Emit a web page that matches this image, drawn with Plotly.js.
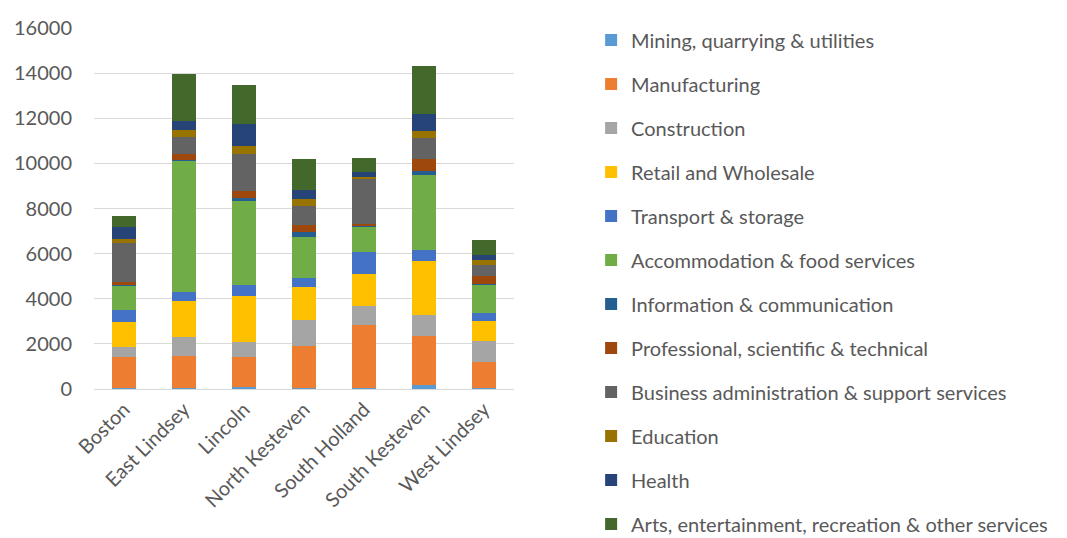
<!DOCTYPE html>
<html>
<head>
<meta charset="utf-8">
<script src="https://cdn.plot.ly/plotly-3.0.1.min.js"></script>
<style>html,body{margin:0;padding:0;background:#fff;}#chart{width:1067px;height:538px;}</style>
</head>
<body>
<div id="chart"></div>
<script>
const districts = ["Boston", "East Lindsey", "Lincoln", "North Kesteven", "South Holland", "South Kesteven", "West Lindsey"];

const mining         = [50, 30, 100, 50, 30, 180, 30];
const manufacturing  = [1350, 1440, 1340, 1860, 2810, 2150, 1180];
const construction   = [440, 830, 660, 1160, 820, 960, 920];
const retail         = [1150, 1580, 2000, 1430, 1440, 2370, 890];
const transport      = [490, 400, 520, 420, 970, 520, 340];
const accommodation  = [1100, 5820, 3700, 1820, 1100, 3290, 1230];
const information    = [50, 60, 150, 210, 40, 190, 50];
const professional   = [100, 240, 300, 340, 110, 520, 350];
const business       = [1760, 790, 1630, 810, 1970, 930, 520];
const education      = [150, 280, 370, 300, 120, 330, 220];
const health         = [540, 410, 960, 440, 200, 770, 230];
const arts           = [500, 2080, 1740, 1340, 640, 2090, 630];

const seriesNames = [
  "Mining, quarrying & utilities",
  "Manufacturing",
  "Construction",
  "Retail and Wholesale",
  "Transport & storage",
  "Accommodation & food services",
  "Information & communication",
  "Professional, scientific & technical",
  "Business administration & support services",
  "Education",
  "Health",
  "Arts, entertainment, recreation & other services"
];
const seriesValues = [mining, manufacturing, construction, retail, transport, accommodation,
  information, professional, business, education, health, arts];
const colors = ["#5B9BD5", "#ED7D31", "#A5A5A5", "#FFC000", "#4472C4", "#70AD47",
  "#255E91", "#9E480E", "#636363", "#997300", "#264478", "#43682B"];

const traces = seriesNames.map((name, i) => ({
  type: "bar",
  name: name,
  x: districts,
  y: seriesValues[i],
  legendgroup: "g" + i,
  marker: { color: colors[i], line: { width: 0 } },
  hoverinfo: "x+y+name"
}));

const font = { family: "Lato, 'Liberation Sans', sans-serif", size: 20, color: "#595959" };
const tickFont = { family: "Lato, 'Liberation Sans', sans-serif", size: 20, color: "#595959" };

const layout = {
  width: 1067,
  height: 538,
  barmode: "stack",
  bargap: 0.6,
  margin: { l: 94, r: 553, t: 28, b: 149 },
  paper_bgcolor: "#ffffff",
  plot_bgcolor: "#ffffff",
  font: font,
  xaxis: {
    tickangle: -45,
    tickfont: font,
    showline: true,
    linecolor: "#D9D9D9",
    linewidth: 1,
    showgrid: false,
    ticks: "",
    fixedrange: true
  },
  yaxis: {
    range: [0, 16000],
    dtick: 2000,
    tickformat: "d",
    tickfont: tickFont,
    showgrid: true,
    gridcolor: "#D9D9D9",
    gridwidth: 1,
    zeroline: false,
    showline: false,
    ticks: "",
    ticklabelstandoff: 21,
    fixedrange: true
  },
  showlegend: true,
  legend: {
    xref: "container",
    yref: "container",
    x: 0.554,
    y: 0.962,
    xanchor: "left",
    yanchor: "top",
    traceorder: "grouped",
    tracegroupgap: 15,
    maxheight: 1,
    font: font,
    itemwidth: 30,
    bgcolor: "rgba(0,0,0,0)"
  }
};

Plotly.newPlot("chart", traces, layout, { displayModeBar: false, staticPlot: true });
</script>
</body>
</html>
